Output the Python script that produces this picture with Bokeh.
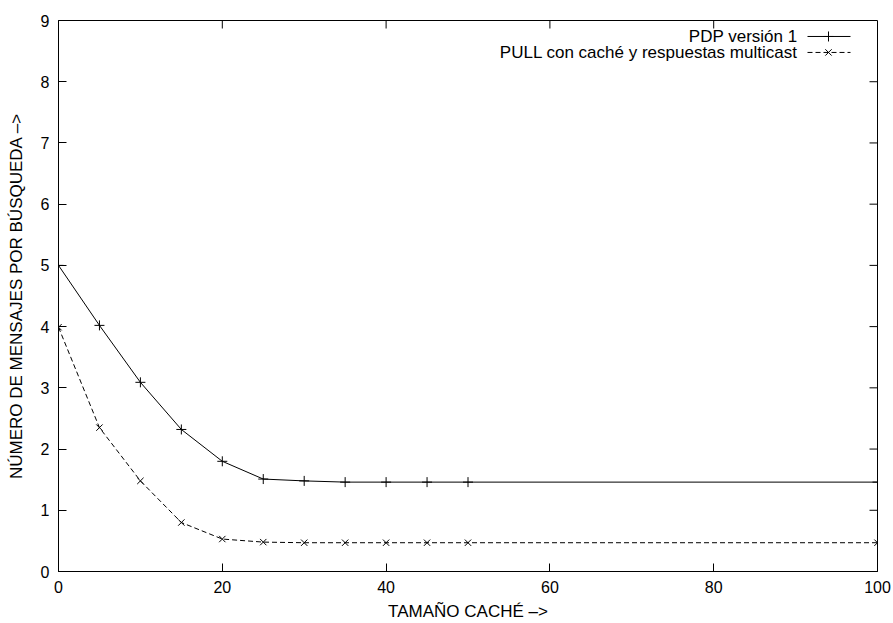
import math
from bokeh.plotting import figure
from bokeh.models import Range1d, FixedTicker, ColumnDataSource
from bokeh.core.properties import value
from bokeh.embed import file_html
from bokeh.resources import INLINE

# ---- data ----
cache_size = [0, 5, 10, 15, 20, 25, 30, 35, 40, 45, 50, 100]
pdp_v1 = [5.0, 4.02, 3.09, 2.32, 1.80, 1.51, 1.48, 1.46, 1.46, 1.46, 1.46, 1.46]
pull_multicast = [3.99, 2.35, 1.48, 0.80, 0.53, 0.48, 0.47, 0.47, 0.47, 0.47, 0.47, 0.47]
series_names = ["PDP versión 1", "PULL con caché y respuestas multicast"]
x_ticks = [0, 20, 40, 60, 80, 100]
y_ticks = [0, 1, 2, 3, 4, 5, 6, 7, 8, 9]
x_label = "TAMAÑO CACHÉ –>"
y_label = "NÚMERO DE MENSAJES POR BÚSQUEDA –>"

FONT = "Liberation Sans"
TICK_FS = "16px"
LAB_FS = "17px"

X0, X1, Y0, Y1 = 0, 100, 0, 9
W, H = 893, 623
BL, BR, BT, BB = 58, 16, 20, 51
FW, FH = W - BL - BR, H - BT - BB

p = figure(width=W, height=H, x_range=Range1d(X0, X1), y_range=Range1d(Y0, Y1),
           output_backend="svg", toolbar_location=None,
           min_border_left=BL, min_border_right=BR, min_border_top=BT, min_border_bottom=BB,
           background_fill_color="white", border_fill_color="white")
p.xgrid.visible = False
p.ygrid.visible = False
p.outline_line_color = "black"
p.outline_line_width = 1


def style_axis(ax, ticks):
    ax.ticker = FixedTicker(ticks=ticks)
    ax.major_tick_in = 8
    ax.major_tick_out = 0
    ax.minor_tick_line_color = None
    ax.axis_line_color = "black"
    ax.major_tick_line_color = "black"
    ax.major_label_text_font = FONT
    ax.major_label_text_color = "black"
    ax.major_label_text_font_size = TICK_FS
    ax.axis_label_text_font = FONT
    ax.axis_label_text_font_size = LAB_FS
    ax.axis_label_text_font_style = "normal"
    ax.axis_label_text_color = "black"


style_axis(p.xaxis[0], x_ticks)
style_axis(p.yaxis[0], y_ticks)
p.xaxis[0].axis_label = x_label
p.yaxis[0].axis_label = y_label
p.xaxis[0].major_label_standoff = 9
p.xaxis[0].axis_label_standoff = 6
p.yaxis[0].major_label_standoff = 9
p.yaxis[0].axis_label_standoff = 12

# mirrored inward ticks on top and right (gnuplot style)
p.ray(x=x_ticks[1:-1], y=[Y1] * (len(x_ticks) - 2), length=8, length_units="screen",
      angle=-math.pi / 2, line_color="black", line_width=1)
p.ray(x=[X1] * (len(y_ticks) - 2), y=y_ticks[1:-1], length=8, length_units="screen",
      angle=math.pi, line_color="black", line_width=1)

src = ColumnDataSource(dict(x=cache_size, a=pdp_v1, b=pull_multicast))
p.line("x", "a", source=src, line_color="black", line_width=1)
p.scatter("x", "a", source=src, marker="cross", size=10, line_color="black", line_width=1)
p.line("x", "b", source=src, line_color="black", line_width=1, line_dash="5 3")
p.scatter("x", "b", source=src, marker="x", size=9, line_color="black", line_width=1)


# ---- legend (gnuplot style: text right-aligned, sample on the right) ----
def dx(px):
    return X0 + (px - BL) * (X1 - X0) / FW


def dy(py):
    return Y1 - (py - BT) * (Y1 - Y0) / FH


rows = [36, 52]
styles = [("cross", "solid", 10), ("x", "5 3", 9)]
for name, py, (mk, dash, sz) in zip(series_names, rows, styles):
    yy = dy(py)
    p.text(x=[dx(797)], y=[yy], text=[name], text_align="right", text_baseline="middle",
           text_font=value(FONT), text_font_size=LAB_FS, text_color="black")
    p.line(x=[dx(807), dx(850)], y=[yy, yy], line_color="black", line_width=1, line_dash=dash)
    p.scatter(x=[dx(828)], y=[yy], marker=mk, size=sz, line_color="black", line_width=1)

open("out.html", "w").write(file_html(p, INLINE))
